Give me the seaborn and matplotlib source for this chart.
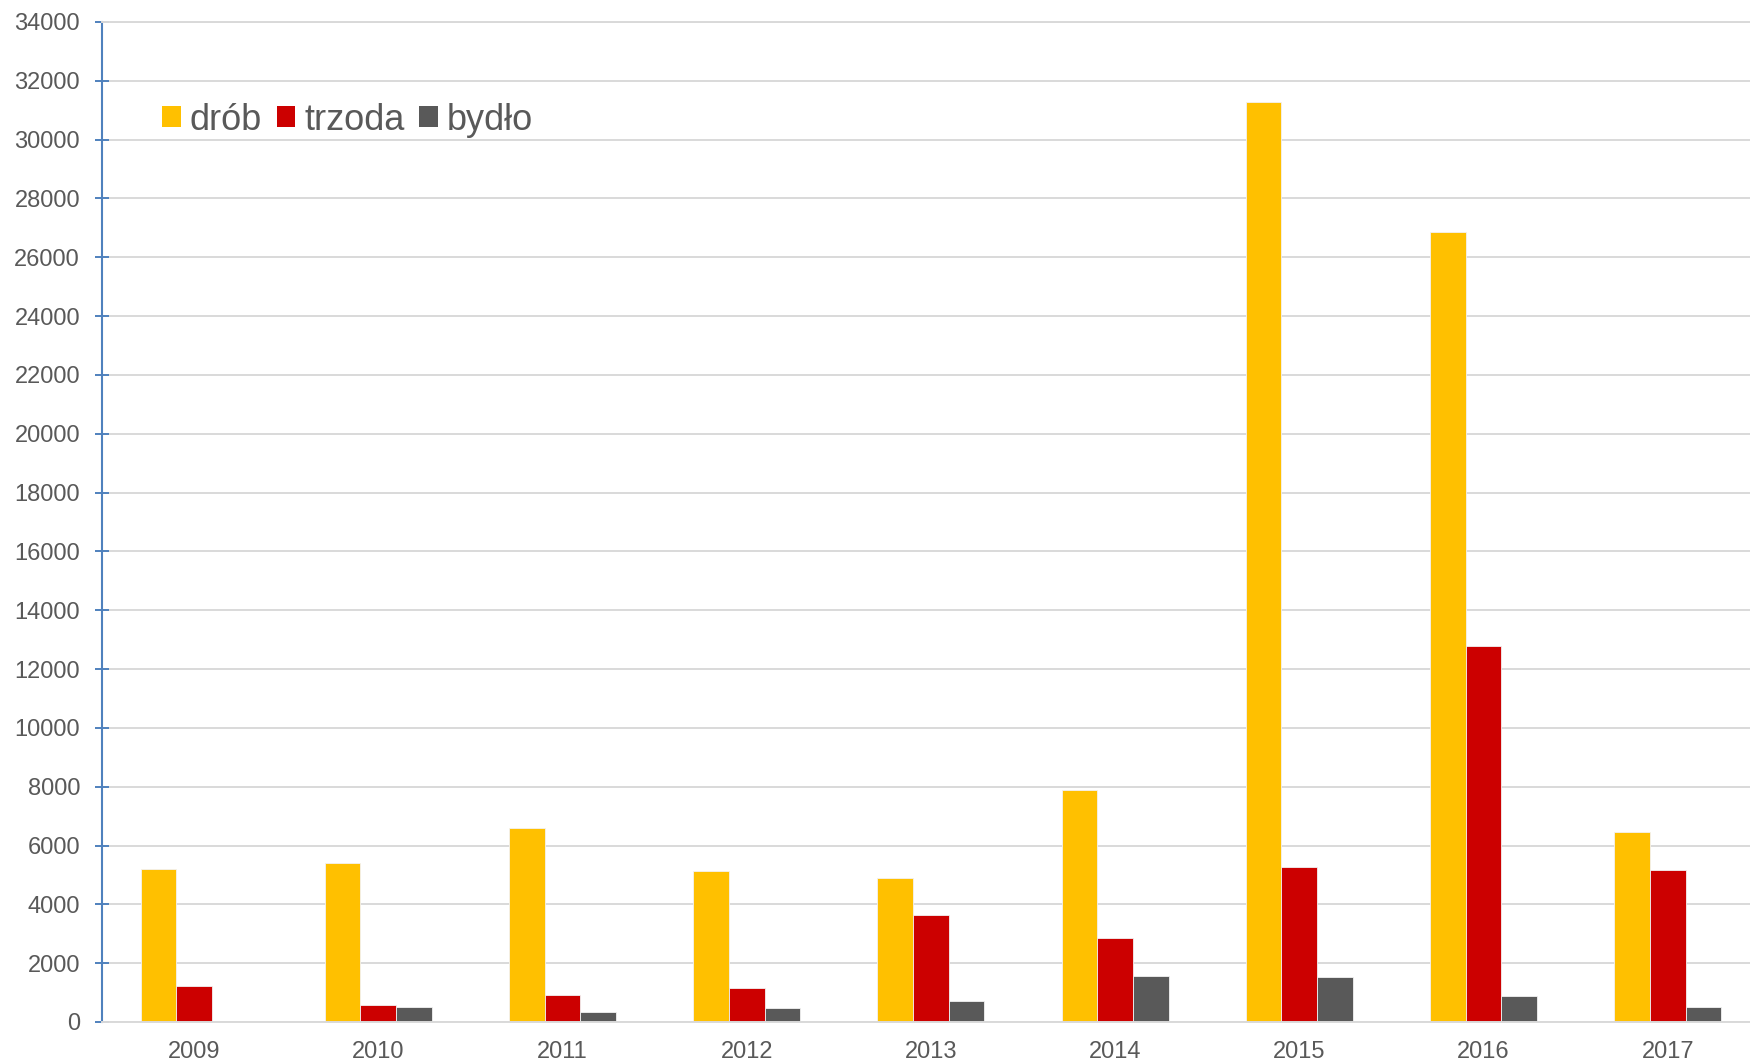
import matplotlib
matplotlib.use("Agg")
import matplotlib.pyplot as plt
from matplotlib.patches import Patch
import seaborn as sns
import pandas as pd

# ── DATA ─────────────────────────────────────────────────────
lata = ["2009", "2010", "2011", "2012", "2013", "2014", "2015", "2016", "2017"]
drob = [5200, 5400, 6580, 5140, 4890, 7900, 31270, 26870, 6470]
trzoda = [1220, 580, 920, 1150, 3640, 2840, 5270, 12780, 5180]
bydlo = [0, 500, 330, 490, 720, 1570, 1520, 870, 520]
serie = ["drób", "trzoda", "bydło"]
kolory = ["#FFC000", "#CC0000", "#595959"]
y_ticks = list(range(0, 34001, 2000))

df = pd.DataFrame({
    "rok": lata * 3,
    "gatunek": [serie[0]] * 9 + [serie[1]] * 9 + [serie[2]] * 9,
    "liczba": drob + trzoda + bydlo,
})

# ── STYLE ────────────────────────────────────────────────────
sns.set_theme(style="white")
plt.rcParams["font.family"] = ["Liberation Sans", "DejaVu Sans"]
text_col = "#595959"
grid_col = "#D9D9D9"
axis_col = "#4F81BD"

fig = plt.figure(figsize=(17.5, 10.64), dpi=100)
ax = fig.add_axes([102 / 1750, 1 - 1022 / 1064, 1 - 102 / 1750, 1000 / 1064])

sns.barplot(data=df, x="rok", y="liczba", hue="gatunek", hue_order=serie,
            palette=kolory, width=0.58, saturation=1, errorbar=None,
            legend=False, ax=ax, linewidth=0.6, edgecolor="#F2F2F2")

ax.set_ylim(0, 34000)
ax.set_xlim(-0.5, -0.5 + (1750 - 102) / 184.2)
ax.set_yticks(y_ticks)
ax.set_yticklabels([str(v) for v in y_ticks])
ax.set_xlabel(""); ax.set_ylabel("")

ax.yaxis.grid(True, color=grid_col, lw=1.4)
ax.xaxis.grid(False)
ax.set_axisbelow(True)

ax.spines["right"].set_visible(False)
ax.spines["top"].set_color(grid_col); ax.spines["top"].set_linewidth(1.4)
ax.spines["bottom"].set_color(grid_col); ax.spines["bottom"].set_linewidth(1.4)
ax.spines["left"].set_color(axis_col); ax.spines["left"].set_linewidth(1.5)

ax.tick_params(axis="y", direction="inout", length=9.6, width=1.4,
               color=axis_col, pad=11, labelsize=17, labelcolor=text_col,
               left=True)
ax.tick_params(axis="x", length=0, pad=14, labelsize=17, labelcolor=text_col)

handles = [Patch(facecolor=c, edgecolor="none", label=l) for c, l in zip(kolory, serie)]
ax.legend(handles=handles, loc="center left",
          bbox_to_anchor=((162 - 102) / 1648, (1022 - 120) / 1000),
          ncol=3, frameon=False, fontsize=26, labelcolor=text_col,
          handlelength=0.52, handleheight=0.52, handletextpad=0.25,
          columnspacing=0.4, borderpad=0, borderaxespad=0)

plt.savefig("out.png", dpi=100)
plt.close()
